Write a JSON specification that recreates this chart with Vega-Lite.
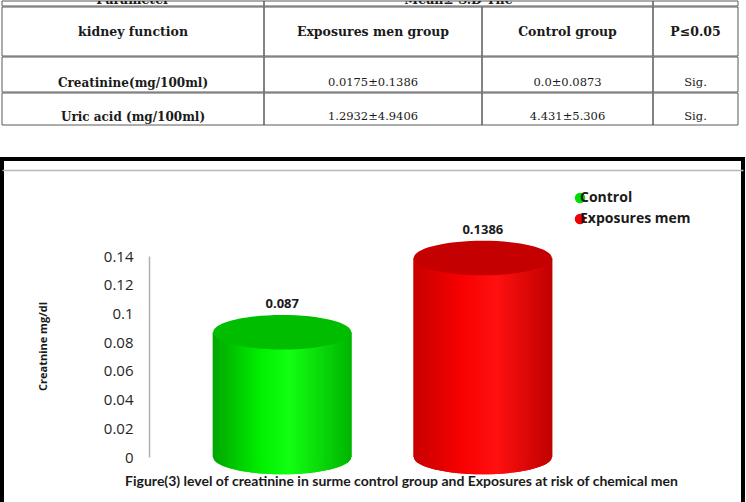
{
  "$schema": "https://vega.github.io/schema/vega-lite/v6.json",
  "padding": 0,
  "background": "#ffffff",
  "config": {"view": {"stroke": null}, "font": "Open Sans"},
  "spacing": 31,
  "vconcat": [
    {
      "spacing": -4,
      "vconcat": [
        {
          "spacing": 0,
          "bounds": "flush",
          "hconcat": [
            {"width": 262, "height": 5, "data": {"values": [{"t": "Parameter"}]}, "layer": [{"mark": {"type": "rect", "fillOpacity": 0, "stroke": "#5a5a5a", "strokeWidth": 1}, "encoding": {}}, {"mark": {"type": "text", "font": "DejaVu Serif", "fontSize": 12.5, "fontWeight": "bold", "dy": -3.5, "clip": true, "color": "#1a1a1a"}, "encoding": {"text": {"field": "t"}}}]},
            {"width": 389, "height": 5, "data": {"values": [{"t": "Mean± S.D The"}]}, "layer": [{"mark": {"type": "rect", "fillOpacity": 0, "stroke": "#5a5a5a", "strokeWidth": 1}, "encoding": {}}, {"mark": {"type": "text", "font": "DejaVu Serif", "fontSize": 12.5, "fontWeight": "bold", "dy": -3.5, "clip": true, "color": "#1a1a1a"}, "encoding": {"text": {"field": "t"}}}]},
            {"width": 85, "height": 5, "data": {"values": [{"t": ""}]}, "layer": [{"mark": {"type": "rect", "fillOpacity": 0, "stroke": "#5a5a5a", "strokeWidth": 1}, "encoding": {}}, {"mark": {"type": "text", "font": "DejaVu Serif", "fontSize": 12.5, "fontWeight": "bold", "dy": -3.5, "clip": true, "color": "#1a1a1a"}, "encoding": {"text": {"field": "t"}}}]}
          ]
        },
        {
          "spacing": 0,
          "bounds": "flush",
          "hconcat": [
            {"width": 262, "height": 49, "data": {"values": [{"t": "kidney function"}]}, "layer": [{"mark": {"type": "rect", "fillOpacity": 0, "stroke": "#5a5a5a", "strokeWidth": 1}, "encoding": {}}, {"mark": {"type": "text", "font": "DejaVu Serif", "fontSize": 12.5, "fontWeight": "bold", "color": "#1a1a1a"}, "encoding": {"text": {"field": "t"}}}]},
            {"width": 218, "height": 49, "data": {"values": [{"t": "Exposures men group"}]}, "layer": [{"mark": {"type": "rect", "fillOpacity": 0, "stroke": "#5a5a5a", "strokeWidth": 1}, "encoding": {}}, {"mark": {"type": "text", "font": "DejaVu Serif", "fontSize": 12.5, "fontWeight": "bold", "color": "#1a1a1a"}, "encoding": {"text": {"field": "t"}}}]},
            {"width": 171, "height": 49, "data": {"values": [{"t": "Control group"}]}, "layer": [{"mark": {"type": "rect", "fillOpacity": 0, "stroke": "#5a5a5a", "strokeWidth": 1}, "encoding": {}}, {"mark": {"type": "text", "font": "DejaVu Serif", "fontSize": 12.5, "fontWeight": "bold", "color": "#1a1a1a"}, "encoding": {"text": {"field": "t"}}}]},
            {"width": 85, "height": 49, "data": {"values": [{"t": "P≤0.05"}]}, "layer": [{"mark": {"type": "rect", "fillOpacity": 0, "stroke": "#5a5a5a", "strokeWidth": 1}, "encoding": {}}, {"mark": {"type": "text", "font": "DejaVu Serif", "fontSize": 12.5, "fontWeight": "bold", "color": "#1a1a1a"}, "encoding": {"text": {"field": "t"}}}]}
          ]
        },
        {
          "spacing": 0,
          "bounds": "flush",
          "hconcat": [
            {"width": 262, "height": 35, "data": {"values": [{"t": "Creatinine(mg/100ml)"}]}, "layer": [{"mark": {"type": "rect", "fillOpacity": 0, "stroke": "#5a5a5a", "strokeWidth": 1}, "encoding": {}}, {"mark": {"type": "text", "font": "DejaVu Serif", "fontSize": 12, "fontWeight": "bold", "dy": 8.5, "color": "#1a1a1a"}, "encoding": {"text": {"field": "t"}}}]},
            {"width": 218, "height": 35, "data": {"values": [{"t": "0.0175±0.1386"}]}, "layer": [{"mark": {"type": "rect", "fillOpacity": 0, "stroke": "#5a5a5a", "strokeWidth": 1}, "encoding": {}}, {"mark": {"type": "text", "font": "DejaVu Serif", "fontSize": 11.5, "dy": 8.5, "color": "#1a1a1a"}, "encoding": {"text": {"field": "t"}}}]},
            {"width": 171, "height": 35, "data": {"values": [{"t": "0.0±0.0873"}]}, "layer": [{"mark": {"type": "rect", "fillOpacity": 0, "stroke": "#5a5a5a", "strokeWidth": 1}, "encoding": {}}, {"mark": {"type": "text", "font": "DejaVu Serif", "fontSize": 11.5, "dy": 8.5, "color": "#1a1a1a"}, "encoding": {"text": {"field": "t"}}}]},
            {"width": 85, "height": 35, "data": {"values": [{"t": "Sig."}]}, "layer": [{"mark": {"type": "rect", "fillOpacity": 0, "stroke": "#5a5a5a", "strokeWidth": 1}, "encoding": {}}, {"mark": {"type": "text", "font": "DejaVu Serif", "fontSize": 11.5, "dy": 8.5, "color": "#1a1a1a"}, "encoding": {"text": {"field": "t"}}}]}
          ]
        },
        {
          "spacing": 0,
          "bounds": "flush",
          "hconcat": [
            {"width": 262, "height": 32, "data": {"values": [{"t": "Uric acid (mg/100ml)"}]}, "layer": [{"mark": {"type": "rect", "fillOpacity": 0, "stroke": "#5a5a5a", "strokeWidth": 1}, "encoding": {}}, {"mark": {"type": "text", "font": "DejaVu Serif", "fontSize": 12, "fontWeight": "bold", "dy": 8, "color": "#1a1a1a"}, "encoding": {"text": {"field": "t"}}}]},
            {"width": 218, "height": 32, "data": {"values": [{"t": "1.2932±4.9406"}]}, "layer": [{"mark": {"type": "rect", "fillOpacity": 0, "stroke": "#5a5a5a", "strokeWidth": 1}, "encoding": {}}, {"mark": {"type": "text", "font": "DejaVu Serif", "fontSize": 11.5, "dy": 8, "color": "#1a1a1a"}, "encoding": {"text": {"field": "t"}}}]},
            {"width": 171, "height": 32, "data": {"values": [{"t": "4.431±5.306"}]}, "layer": [{"mark": {"type": "rect", "fillOpacity": 0, "stroke": "#5a5a5a", "strokeWidth": 1}, "encoding": {}}, {"mark": {"type": "text", "font": "DejaVu Serif", "fontSize": 11.5, "dy": 8, "color": "#1a1a1a"}, "encoding": {"text": {"field": "t"}}}]},
            {"width": 85, "height": 32, "data": {"values": [{"t": "Sig."}]}, "layer": [{"mark": {"type": "rect", "fillOpacity": 0, "stroke": "#5a5a5a", "strokeWidth": 1}, "encoding": {}}, {"mark": {"type": "text", "font": "DejaVu Serif", "fontSize": 11.5, "dy": 8, "color": "#1a1a1a"}, "encoding": {"text": {"field": "t"}}}]}
          ]
        }
      ]
    },
    {
      "width": 741,
      "height": 345,
      "view": {"stroke": "#000000", "strokeWidth": 4},
      "title": {
        "text": "Figure(3) level of creatinine in surme control group and Exposures at risk of chemical men",
        "orient": "bottom",
        "anchor": "middle",
        "offset": -29,
        "dx": 29,
        "baseline": "top",
        "font": "Liberation Sans Narrow, Lato",
        "fontSize": 14,
        "fontWeight": "bold",
        "color": "#1a1a1a"
      },
      "data": {
        "values": [
          {"group": "Control", "value": 0.087, "label": "0.087"},
          {"group": "Exposures mem", "value": 0.1386, "label": "0.1386"}
        ]
      },
      "layer": [
        {
          "mark": {"type": "point", "shape": "M-1,0A1,0.25,0,1,0,1,0A1,0.25,0,1,0,-1,0Z", "filled": true, "size": 19044, "opacity": 1, "strokeWidth": 0},
          "encoding": {
            "x": {
              "field": "group", "type": "nominal",
              "scale": {"paddingInner": 0.3065, "paddingOuter": 1.015, "align": 0.525},
              "axis": {"orient": "top", "labels": false, "ticks": false, "title": null, "domainColor": "#b8b8b8", "domainWidth": 1.5, "offset": -11}
            },
            "y": {"datum": 0, "type": "quantitative"},
            "color": {
              "field": "group", "type": "nominal",
              "scale": {"range": ["#00dd00", "#f00000"]},
              "legend": {
                "orient": "none", "legendX": 571, "legendY": 190, "title": null,
                "symbolType": "circle", "symbolSize": 110, "symbolStrokeWidth": 0,
                "labelFont": "Open Sans", "labelFontSize": 14, "labelFontWeight": "bold",
                "labelColor": "#1a1a1a", "labelOffset": -7, "rowPadding": 7
              }
            }
          }
        },
        {
          "mark": {"type": "point", "shape": "M-1,0A1,0.25,0,1,0,1,0A1,0.25,0,1,0,-1,0Z", "filled": true, "size": 19044, "opacity": 1, "strokeWidth": 0},
          "encoding": {
            "x": {"field": "group", "type": "nominal"},
            "y": {"datum": 0, "type": "quantitative"},
            "color": {
              "condition": {"test": "datum.group === 'Control'", "value": {"gradient": "linear", "x1": 0, "x2": 1, "y1": 0, "y2": 0, "stops": [{"offset": 0, "color": "#00a600"}, {"offset": 0.35, "color": "#00f000"}, {"offset": 0.55, "color": "#12ff12"}, {"offset": 1, "color": "#00b400"}]}},
              "value": {"gradient": "linear", "x1": 0, "x2": 1, "y1": 0, "y2": 0, "stops": [{"offset": 0, "color": "#c80000"}, {"offset": 0.35, "color": "#f80000"}, {"offset": 0.6, "color": "#ff1010"}, {"offset": 1, "color": "#c00000"}]}
            }
          }
        },
        {
          "mark": {"type": "bar", "strokeWidth": 0},
          "encoding": {
            "x": {"field": "group", "type": "nominal"},
            "y": {
              "field": "value", "type": "quantitative",
              "scale": {"domain": [-0.0327, 0.2076], "nice": false, "zero": false},
              "axis": {
                "values": [0, 0.02, 0.04, 0.06, 0.08, 0.1, 0.12, 0.14],
                "labelExpr": "'' + datum.value",
                "offset": -147, "ticks": false, "tickSize": 0, "labelPadding": 16,
                "labelFont": "Open Sans", "labelFontSize": 15, "labelColor": "#262626",
                "labelOverlap": false, "labelFlush": false, "grid": false,
                "domainColor": "#b0b0b0", "domainWidth": 1.5, "domainDash": [201, 2000], "domainDashOffset": 2154,
                "title": "Creatnine mg/dl", "titleFont": "Open Sans", "titleFontSize": 11, "titleFontWeight": "bold", "titleColor": "#1a1a1a",
                "titleX": -101, "titleY": 187
              }
            },
            "y2": {"datum": 0},
            "color": {
              "condition": {"test": "datum.group === 'Control'", "value": {"gradient": "linear", "x1": 0, "x2": 1, "y1": 0, "y2": 0, "stops": [{"offset": 0, "color": "#00a600"}, {"offset": 0.35, "color": "#00f000"}, {"offset": 0.55, "color": "#12ff12"}, {"offset": 1, "color": "#00b400"}]}},
              "value": {"gradient": "linear", "x1": 0, "x2": 1, "y1": 0, "y2": 0, "stops": [{"offset": 0, "color": "#c80000"}, {"offset": 0.35, "color": "#f80000"}, {"offset": 0.6, "color": "#ff1010"}, {"offset": 1, "color": "#c00000"}]}
            }
          }
        },
        {
          "mark": {"type": "point", "shape": "M-1,0A1,0.25,0,1,0,1,0A1,0.25,0,1,0,-1,0Z", "filled": true, "size": 19044, "opacity": 1, "strokeWidth": 0},
          "encoding": {
            "x": {"field": "group", "type": "nominal"},
            "y": {"field": "value", "type": "quantitative"},
            "color": {"condition": {"test": "datum.group === 'Control'", "value": "#00bd00"}, "value": "#c40000"}
          }
        },
        {
          "mark": {"type": "text", "dy": -28, "font": "Open Sans", "fontSize": 13, "fontWeight": "bold", "color": "#1a1a1a"},
          "encoding": {
            "x": {"field": "group", "type": "nominal"},
            "y": {"field": "value", "type": "quantitative"},
            "text": {"field": "label"}
          }
        }
      ]
    }
  ]
}
